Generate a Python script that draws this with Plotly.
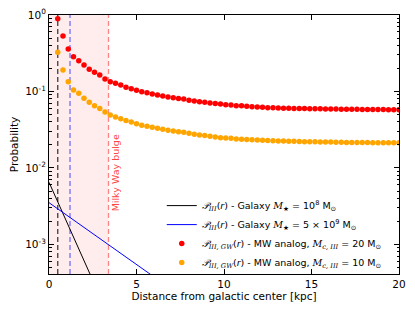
import numpy as np
import plotly.graph_objects as go

# ---------------- data ----------------
r_points = [0.5, 0.8, 1.1, 1.4, 1.7, 2.0, 2.3, 2.6, 2.9, 3.2, 3.5, 3.8, 4.1, 4.4, 4.7,
            5.0, 5.3, 5.6, 5.9, 6.2, 6.5, 6.8, 7.1, 7.4, 7.7, 8.0, 8.3, 8.6, 8.9, 9.2,
            9.5, 9.8, 10.1, 10.4, 10.7, 11.0, 11.3, 11.6, 11.9, 12.2, 12.5, 12.8, 13.1,
            13.4, 13.7, 14.0, 14.3, 14.6, 14.9, 15.2, 15.5, 15.8, 16.1, 16.4, 16.7,
            17.0, 17.3, 17.6, 17.9, 18.2, 18.5, 18.8, 19.1, 19.4, 19.7, 20.0]

p_gw_20 = [0.89, 0.53, 0.36, 0.285, 0.253, 0.222, 0.195, 0.178, 0.164, 0.146, 0.134,
           0.128, 0.122, 0.1135, 0.109, 0.104, 0.0995, 0.0966, 0.0928, 0.090, 0.0873,
           0.0848, 0.083, 0.0812, 0.0797, 0.0767, 0.0751, 0.0736, 0.0722, 0.0709,
           0.0696, 0.0684, 0.0672, 0.0666, 0.0653, 0.0650, 0.0640, 0.0633, 0.0628,
           0.0621, 0.0614, 0.0612, 0.0608, 0.0606, 0.0604, 0.0601, 0.0599, 0.0597,
           0.0596, 0.0595, 0.0593, 0.0591, 0.0590, 0.0589, 0.0587, 0.0586, 0.0585,
           0.0584, 0.0583, 0.0582, 0.0581, 0.0580, 0.0580, 0.0579, 0.0578, 0.0578]

p_gw_10 = [0.325, 0.191, 0.134, 0.1047, 0.0947, 0.0815, 0.0722, 0.0653, 0.0597, 0.054,
           0.0493, 0.0464, 0.0441, 0.0416, 0.0399, 0.0378, 0.0361, 0.0351, 0.034, 0.033,
           0.032, 0.0311, 0.0305, 0.0298, 0.0293, 0.0284, 0.0276, 0.027, 0.0265, 0.026,
           0.0254, 0.0249, 0.0247, 0.0245, 0.0240, 0.0238, 0.0236, 0.0234, 0.0232,
           0.0230, 0.0228, 0.0227, 0.0226, 0.0225, 0.0224, 0.0223, 0.0222, 0.0221,
           0.0221, 0.0220, 0.0219, 0.0218, 0.0218, 0.0217, 0.0217, 0.0216, 0.0216,
           0.0215, 0.0215, 0.0215, 0.0214, 0.0214, 0.0214, 0.0214, 0.0214, 0.0214]

r_galaxy = [0, 1, 2, 3, 4, 5, 6, 7]
p_galaxy_1e8 = [0.0065, 0.0020, 0.000615, 0.000189, 0.000058, 0.0000179, 0.0000055, 0.0000017]
p_galaxy_5e9 = [0.00352, 0.00243, 0.00168, 0.00116, 0.00080, 0.00055, 0.00038, 0.00026]

r_scale_1e8 = 0.5
r_scale_5e9 = 1.2
r_bulge = 3.4
bulge_label = "Milky Way bulge"
bulge_label_pos = (3.85, 0.0086)

x_ticks = [0, 5, 10, 15, 20]
y_ticks = [1, 0.1, 0.01, 0.001]
y_ticktext = ["10<sup>0</sup>", "10<sup>-1</sup>", "10<sup>-2</sup>", "10<sup>-3</sup>"]

x_title = "Distance from galactic center [kpc]"
y_title = "Probability"

SERIF = "font-family:'DejaVu Serif'"
def m(s):
    return f"<span style=\"{SERIF}\"><i>{s}</i></span>"

P = "𝒫"
names = [
    f"{m(P)}<sub>{m('III')}</sub>(<i>r</i>) - Galaxy {m('M')}<sub>★</sub> = 10<sup>8</sup> M<sub>⊙</sub>",
    f"{m(P)}<sub>{m('III')}</sub>(<i>r</i>) - Galaxy {m('M')}<sub>★</sub> = 5 × 10<sup>9</sup> M<sub>⊙</sub>",
    f"{m(P)}<sub>{m('III, GW')}</sub>(<i>r</i>) - MW analog, {m('M')}<sub>{m('c, III')}</sub> = 20 M<sub>⊙</sub>",
    f"{m(P)}<sub>{m('III, GW')}</sub>(<i>r</i>) - MW analog, {m('M')}<sub>{m('c, III')}</sub> = 10 M<sub>⊙</sub>",
]

# ---------------- figure ----------------
fig = go.Figure()

fig.add_trace(go.Scatter(x=r_galaxy, y=p_galaxy_1e8, mode="lines",
                         line=dict(color="black", width=1), name=names[0]))
fig.add_trace(go.Scatter(x=r_galaxy, y=p_galaxy_5e9, mode="lines",
                         line=dict(color="blue", width=1), name=names[1]))
fig.add_trace(go.Scatter(x=r_points, y=p_gw_20, mode="markers",
                         marker=dict(color="red", size=5.5, line=dict(width=0)), name=names[2]))
fig.add_trace(go.Scatter(x=r_points, y=p_gw_10, mode="markers",
                         marker=dict(color="orange", size=5.5, line=dict(width=0)), name=names[3]))

# shaded bulge region and dashed markers
fig.add_shape(type="rect", xref="x", yref="paper", x0=0, x1=r_bulge, y0=0, y1=1,
              fillcolor="rgba(255,0,0,0.07)", line=dict(width=0), layer="below")
for xv, col in [(r_scale_1e8, "rgba(0,0,0,0.75)"), (r_scale_5e9, "rgba(80,80,255,0.8)"),
                (r_bulge, "rgba(255,60,60,0.6)")]:
    fig.add_shape(type="line", xref="x", yref="paper", x0=xv, x1=xv, y0=0, y1=1,
                  line=dict(color=col, width=1.3, dash="5px,3px"), layer="below")

fig.add_annotation(x=bulge_label_pos[0], y=np.log10(bulge_label_pos[1]), xref="x", yref="y",
                   text=bulge_label, textangle=-90, showarrow=False,
                   font=dict(color="rgba(255,40,40,0.9)", size=9.5, family="DejaVu Sans"))

minor_vals = [k * 10.0 ** e for e in range(-4, 0) for k in range(2, 10)]

fig.update_xaxes(range=[0, 20], tickvals=x_ticks, ticks="inside", ticklen=5, tickwidth=1,
                 tickcolor="black", showline=True, linecolor="black", linewidth=1,
                 mirror="allticks", showgrid=False, zeroline=False, automargin=False,
                 ticklabeloverflow="allow",
                 title=dict(text=x_title, standoff=4, font=dict(size=10.5)),
                 tickfont=dict(size=10.5))
fig.update_yaxes(type="log", range=[np.log10(0.000411), 0], tickvals=y_ticks, ticktext=y_ticktext,
                 ticks="inside", ticklen=5, tickwidth=1, tickcolor="black",
                 minor=dict(tickvals=minor_vals, ticks="inside", ticklen=2.5, tickcolor="black",
                            showgrid=False),
                 showline=True, linecolor="black", linewidth=1, mirror="allticks",
                 showgrid=False, zeroline=False, automargin=False,
                 ticklabeloverflow="allow",
                 title=dict(text=y_title, standoff=4, font=dict(size=10.5)),
                 tickfont=dict(size=10.5))

# the page adds an 8px body margin, so the figure is 8px smaller on each axis
fig.update_layout(
    width=407, height=304,
    margin=dict(l=41, r=16, t=7, b=38, autoexpand=False),
    paper_bgcolor="white", plot_bgcolor="white",
    font=dict(family="DejaVu Sans", color="black", size=10),
    showlegend=True,
    legend=dict(x=0.965, y=-0.012, xanchor="right", yanchor="bottom",
                bgcolor="rgba(0,0,0,0)", font=dict(size=9.5), tracegroupgap=0,
                itemwidth=30),
)

fig.write_html("out.html")
